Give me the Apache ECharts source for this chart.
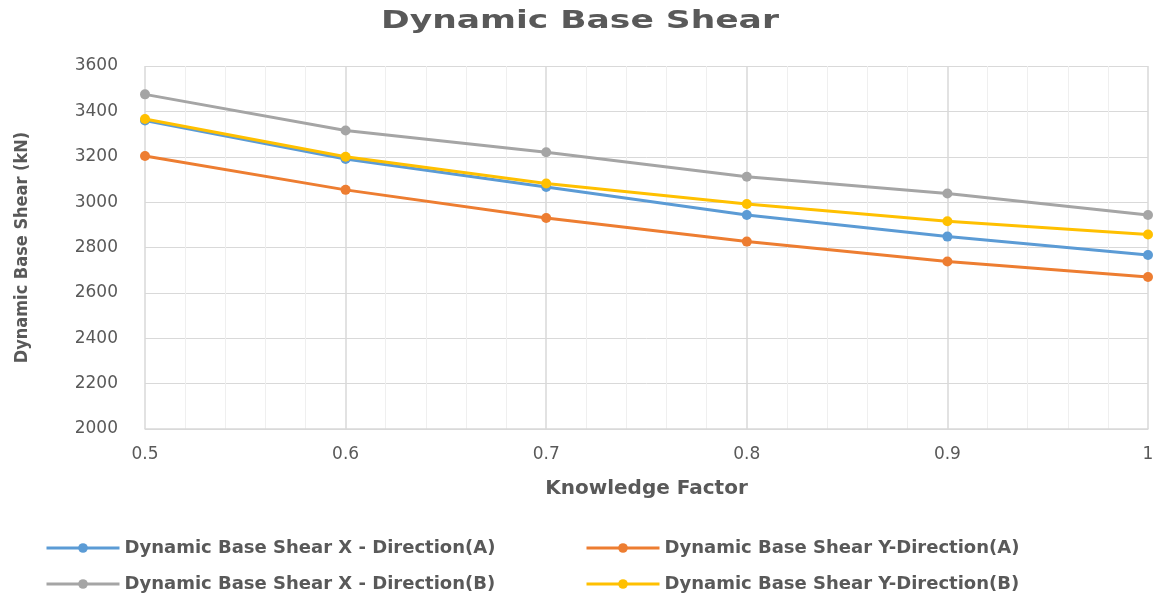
<!DOCTYPE html>
<html>
<head>
<meta charset="utf-8">
<script src="https://cdn.jsdelivr.net/npm/echarts@6/dist/echarts.min.js"></script>
<style>
  html, body { margin: 0; padding: 0; background: #fff; }
  #chart { width: 1158px; height: 596px; }
</style>
</head>
<body>
<div id="chart"></div>
<script>
// Knowledge factor values along the x axis
const knowledgeFactor = [0.5, 0.6, 0.7, 0.8, 0.9, 1.0];

// Dynamic base shear (kN) per direction and case
const shearXA = [3360, 3190, 3067, 2943, 2848, 2767];
const shearYA = [3203, 3054, 2930, 2826, 2738, 2670];
const shearXB = [3475, 3316, 3220, 3112, 3038, 2943];
const shearYB = [3366, 3200, 3082, 2992, 2916, 2857];

const chartTitle = 'Dynamic Base Shear';
const seriesNames = [
  'Dynamic Base Shear X - Direction(A)',
  'Dynamic Base Shear Y-Direction(A)',
  'Dynamic Base Shear X - Direction(B)',
  'Dynamic Base Shear Y-Direction(B)'
];
const seriesColors = ['#5b9bd5', '#ed7d31', '#a5a5a5', '#ffc000'];
const seriesValues = [shearXA, shearYA, shearXB, shearYB];

const textColor = '#595959';
const labelFont = '"DejaVu Sans", sans-serif';

const chart = echarts.init(document.getElementById('chart'), null, { renderer: 'canvas' });

// one legend block per entry, laid out as a 2 x 2 table
const legendSlots = [
  { left: 40, top: 534 },
  { left: 580, top: 534 },
  { left: 40, top: 570 },
  { left: 580, top: 570 }
];
const legends = seriesNames.map((name, i) => ({
  left: legendSlots[i].left,
  top: legendSlots[i].top,
  orient: 'horizontal',
  itemWidth: 73,
  itemHeight: 12,
  lineStyle: { width: 3 },
  data: [name],
  textStyle: { color: textColor, fontSize: 18, fontWeight: 'bold', fontFamily: labelFont }
}));

chart.setOption({
  animation: false,
  // wide bold heading, stretched horizontally around its centre
  graphic: [{
    type: 'text',
    x: 580,
    y: 9,
    scaleX: 1.38,
    style: {
      text: chartTitle,
      x: 0,
      y: 0,
      align: 'center',
      verticalAlign: 'top',
      font: 'bold 25px "DejaVu Sans", sans-serif',
      fill: textColor
    }
  }],
  legend: legends,
  grid: { left: 145, right: 10, top: 66, bottom: 167 },
  xAxis: {
    type: 'value',
    min: 0.5,
    max: 1,
    interval: 0.1,
    name: 'Knowledge Factor',
    nameLocation: 'middle',
    nameGap: 50,
    nameTextStyle: { color: textColor, fontSize: 20, fontWeight: 'bold', fontFamily: labelFont },
    axisLine: { show: true, lineStyle: { color: '#d9d9d9', width: 1.5 } },
    axisTick: { show: false },
    axisLabel: {
      color: textColor, fontSize: 17, fontFamily: labelFont, margin: 17,
      formatter: v => String(Math.round(v * 10) / 10)
    },
    splitLine: { show: true, lineStyle: { color: '#d9d9d9', width: 1.5 } },
    minorTick: { show: false, splitNumber: 5 },
    minorSplitLine: { show: true, lineStyle: { color: '#efefef', width: 1 } }
  },
  yAxis: {
    type: 'value',
    min: 2000,
    max: 3600,
    interval: 200,
    name: 'Dynamic Base Shear (kN)',
    nameLocation: 'middle',
    nameGap: 114,
    nameTextStyle: { color: textColor, fontSize: 18, fontWeight: 'bold', fontFamily: '"Liberation Sans Narrow", "DejaVu Sans Condensed", sans-serif' },
    axisLine: { show: false },
    axisTick: { show: false },
    axisLabel: {
      color: textColor, fontSize: 17, fontFamily: labelFont, margin: 27,
      formatter: v => String(v)
    },
    splitLine: { show: true, lineStyle: { color: '#d9d9d9', width: 1 } }
  },
  series: seriesNames.map((name, i) => ({
    name: name,
    type: 'line',
    data: knowledgeFactor.map((x, j) => [x, seriesValues[i][j]]),
    color: seriesColors[i],
    symbol: 'circle',
    symbolSize: 10,
    lineStyle: { width: 3 },
    itemStyle: { color: seriesColors[i] },
    z: [2, 1, 3, 4][i]
  }))
});
</script>
</body>
</html>
